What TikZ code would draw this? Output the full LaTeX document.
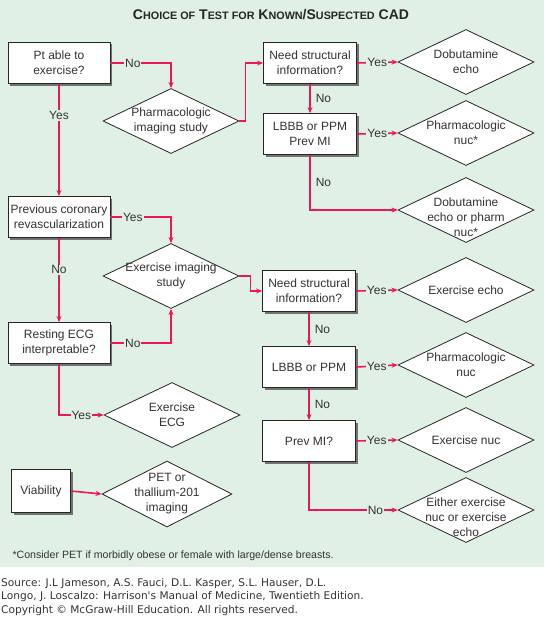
\documentclass[tikz,border=0pt]{standalone}
\usepackage{fontspec}
\setmainfont{Liberation Sans}
\newfontfamily\srcfont{DejaVu Sans}
\usetikzlibrary{arrows.meta,shapes.geometric,shadows}

\definecolor{flowred}{HTML}{E8185A}
\definecolor{bggreen}{HTML}{E1F0E5}
\definecolor{txtgrey}{HTML}{333333}
\newcommand\smc[1]{{\fontsize{10.8}{12}\selectfont #1}}

\begin{document}
\begin{tikzpicture} [x=1pt,y=-1pt,
  flow/.style={draw=flowred,line width=1.6pt,-{Stealth[length=6pt,width=5pt]}},
  box/.style={draw=black!85,fill=white,line width=0.8pt,align=center,
    minimum width=102pt,minimum height=41pt,inner sep=1pt,text=txtgrey,
    font=\fontsize{12}{15}\selectfont,
    drop shadow={shadow xshift=2pt,shadow yshift=-2pt,fill=black!55,opacity=1}},
  rbox/.style={box,minimum width=93pt},
  decision/.style={diamond,draw=black!85,fill=white,line width=0.8pt,
    minimum width=136pt,minimum height=65pt,inner sep=0pt},
  dtext/.style={align=center,text=txtgrey,font=\fontsize{12}{15}\selectfont},
  lbl/.style={fill=bggreen,inner sep=1pt,text=txtgrey,font=\fontsize{12}{13}\selectfont},
  lblr/.style={right,inner sep=2pt,xshift=3pt,text=txtgrey,font=\fontsize{12}{13}\selectfont}]

  \useasboundingbox (0,0) rectangle (544,618);
  \fill[bggreen] (0,0) rectangle (544,567);

  \node[font=\bfseries\fontsize{14}{16}\selectfont,text=black!85] (t) at (271,15)
    {C\smc{HOICE OF} T\smc{EST FOR} K\smc{NOWN}/S\smc{USPECTED} CAD};

  % left column
  \node[box] (1) at (59,63) {Pt able to\\exercise?};
  \node[box] (8) at (59,217) {Previous coronary\\revascularization};
  \node[box] (10) at (59,343) {Resting ECG\\interpretable?};
  \node[box,minimum width=59pt,minimum height=43pt] (19) at (41,491) {Viability};

  % middle column
  \node[decision,label={[dtext]center:Pharmacologic\\imaging study}] (2) at (171,121) {};
  \node[decision,label={[dtext]center:Exercise imaging\\study}] (9) at (171,276) {};
  \node[decision,label={[dtext]center:Exercise\\ECG}] (11) at (172,415) {};
  \node[decision,minimum width=130pt,minimum height=66pt,
    label={[dtext]center:PET or\\thallium-201\\imaging}] (20) at (167,494) {};

  % right column, pharmacologic branch
  \node[rbox] (3) at (310,63) {Need structural\\information?};
  \node[rbox] (5) at (310,134) {LBBB or PPM\\Prev MI};
  \node[decision,label={[dtext]center:Dobutamine\\echo}] (4) at (466,62) {};
  \node[decision,label={[dtext]center:Pharmacologic\\nuc*}] (6) at (466,133) {};
  \node[decision,label={[dtext,yshift=-7pt]center:Dobutamine\\echo or pharm\\nuc*}] (7) at (466,210) {};

  % right column, exercise branch
  \node[rbox] (12) at (309,291) {Need structural\\information?};
  \node[rbox] (14) at (309,367) {LBBB or PPM};
  \node[rbox] (16) at (309,441) {Prev MI?};
  \node[decision,label={[dtext]center:Exercise echo}] (13) at (466,290) {};
  \node[decision,label={[dtext]center:Pharmacologic\\nuc}] (15) at (466,365) {};
  \node[decision,label={[dtext]center:Exercise nuc}] (17) at (466,440) {};
  \node[decision,label={[dtext,yshift=-7pt]center:Either exercise\\nuc or exercise\\echo}] (18) at (466,510) {};

  \node[anchor=west,text=txtgrey,font=\fontsize{10.6}{12}\selectfont] (fn) at (9,556)
    {*Consider PET if morbidly obese or female with large/dense breasts.};
  \node[anchor=north west,align=left,inner sep=0pt,text=txtgrey,
    font=\srcfont\fontsize{10.6}{13.5}\selectfont] (src) at (1,578)
    {Source: J.L Jameson, A.S. Fauci, D.L. Kasper, S.L. Hauser, D.L.\\
     Longo, J. Loscalzo: Harrison's Manual of Medicine, Twentieth Edition.\\
     Copyright \textcopyright{} McGraw-Hill Education. All rights reserved.};

  % connectors
  \draw[flow] (1.east) -- node[lbl,pos=.37] {No} (1.east -| 2.north) -- (2.north);
  \draw[flow] (2.east) -- ++(6,0) |- (3.west);
  \draw[flow] (3.east) -- node[lbl] {Yes} (4.west);
  \draw[flow] (3.south) -- node[lblr] {No} (5.north);
  \draw[flow] (5.east) -- node[lbl] {Yes} (6.west);
  \draw[flow] (5.south) -- node[lblr] {No} (5.south |- 7.west) -- (7.west);

  \draw[flow] (1.south) -- node[lbl,pos=.28] {Yes} (8.north);
  \draw[flow] (8.east) -- node[lbl,pos=.37] {Yes} (8.east -| 9.north) -- (9.north);
  \draw[flow] (8.south) -- node[lbl,pos=.38] {No} (10.north);
  \draw[flow] (10.east) -- node[lbl,pos=.37] {No} (10.east -| 9.south) -- (9.south);
  \draw[flow] (10.south) |- node[lbl,pos=.75] {Yes} (11.west);
  \draw[flow] (9.east) -- ++(11,0) |- (12.west);

  \draw[flow] (12.east) -- node[lbl] {Yes} (13.west);
  \draw[flow] (12.south) -- node[lblr] {No} (14.north);
  \draw[flow] (14.east) -- node[lbl] {Yes} (15.west);
  \draw[flow] (14.south) -- node[lblr] {No} (16.north);
  \draw[flow] (16.east) -- node[lbl] {Yes} (17.west);
  \draw[flow] (16.south) -- (16.south |- 18.west) -- node[lbl,pos=.75] {No} (18.west);

  \draw[flow] (19.east) -- (20.west);

\end{tikzpicture}
\end{document}
